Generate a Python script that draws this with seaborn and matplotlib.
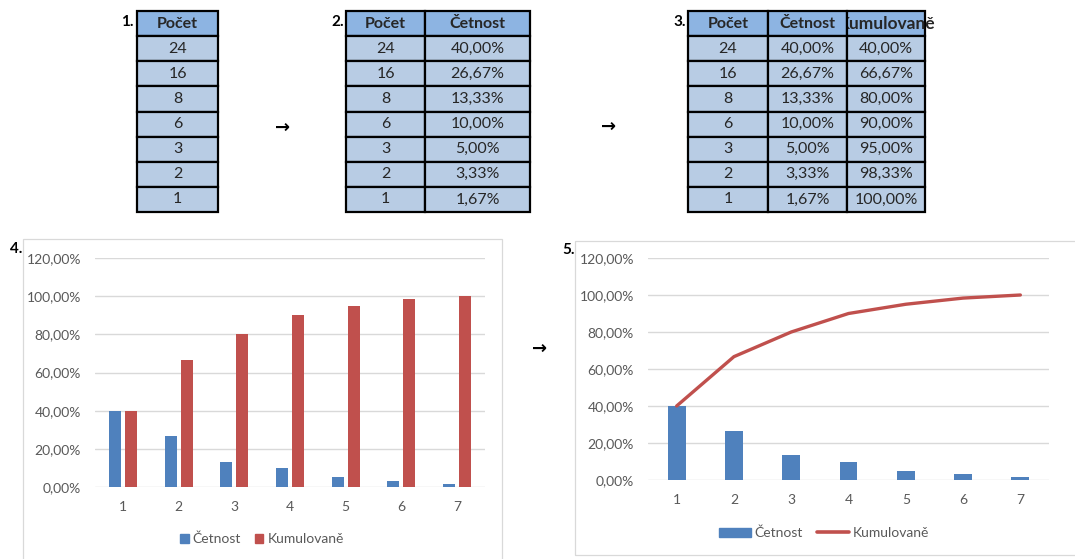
import matplotlib
matplotlib.use("Agg")
import matplotlib.pyplot as plt
import pandas as pd
import seaborn as sns
from matplotlib.patches import Rectangle, Patch
from matplotlib.lines import Line2D
from matplotlib.ticker import FuncFormatter
from matplotlib.transforms import Bbox, TransformedBbox

# data
pocet = [24, 16, 8, 6, 3, 2, 1]
cetnost = [40.00, 26.67, 13.33, 10.00, 5.00, 3.33, 1.67]
kumulovane = [40.00, 66.67, 80.00, 90.00, 95.00, 98.33, 100.00]
poradi = ["1", "2", "3", "4", "5", "6", "7"]

BLUE = "#4F81BD"
RED = "#C0504D"
HEAD = "#8DB4E2"
CELL = "#B8CCE4"
GRID = "#D9D9D9"
TICK = "#595959"

sns.set_theme(style="white")
plt.rcParams["font.family"] = ["Lato", "DejaVu Sans"]

W, H = 1075, 559
fig = plt.figure(figsize=(W / 100, H / 100), dpi=100)


def px(x0, y0, x1, y1):
    return [x0 / W, 1 - y1 / H, (x1 - x0) / W, (y1 - y0) / H]


def pct(v):
    return f"{v:.2f}%".replace(".", ",")


def draw_table(rect, columns, rows, widths):
    ax = fig.add_axes(rect)
    ax.axis("off")
    tab = ax.table(cellText=rows, colLabels=columns, colWidths=widths,
                   cellLoc="center", bbox=[0, 0, 1, 1])
    tab.auto_set_font_size(False)
    tab.set_fontsize(11.5)
    for (r, c), cell in tab.get_celld().items():
        cell.set_edgecolor("black")
        cell.set_linewidth(1.6)
        cell.set_facecolor(HEAD if r == 0 else CELL)
        if r == 0:
            cell.get_text().set_fontweight("bold")
    return tab


def label(x, y, s):
    fig.text(x / W, 1 - y / H, s, ha="right", va="center",
             fontweight="bold", fontsize=11, color="black")


def arrow(x, y):
    fig.text(x / W, 1 - y / H, "\u2192", ha="center", va="center",
             fontsize=13, fontweight="bold", family=["DejaVu Sans"], color="black")


# tables
draw_table(px(137, 11, 218, 212), ["Počet"], [[str(p)] for p in pocet], [1])
draw_table(px(346, 11, 530, 212), ["Počet", "Četnost"],
           [[str(p), pct(c)] for p, c in zip(pocet, cetnost)], [79, 105])
tab3 = draw_table(px(688, 11, 925, 212), ["Počet", "Četnost", "Kumulovaně"],
                  [[str(p), pct(c), pct(k)] for p, c, k in zip(pocet, cetnost, kumulovane)],
                  [80, 79, 78])
# header text overflows its cell: cut off on the left like in the sheet
head = tab3[0, 2].get_text()
head.set_fontsize(12.5)
head.set_clip_on(True)
head.set_clip_box(TransformedBbox(Bbox([[848 / W, 0], [1, 1]]), fig.transFigure))

label(134, 22, "1.")
label(344, 22, "2.")
label(686, 22, "3.")
arrow(283, 128)
arrow(609, 127)
arrow(540, 349)

# chart frames
fig.add_artist(Rectangle((23 / W, -0.1), (502 - 23) / W, 1 - 239 / H + 0.1,
                         transform=fig.transFigure, fill=False, edgecolor=GRID, lw=0.9))
fig.add_artist(Rectangle((575 / W, 1 - 555 / H), 0.5, (555 - 241) / H,
                         transform=fig.transFigure, fill=False, edgecolor=GRID, lw=0.9))
label(22, 249, "4.")
label(575, 250, "5.")


def style_axis(ax):
    ax.set_ylim(0, 120)
    ax.set_yticks(range(0, 121, 20))
    ax.yaxis.set_major_formatter(FuncFormatter(lambda v, _: pct(v)))
    ax.set_xlim(-0.5, 6.5)
    ax.grid(axis="y", color=GRID, lw=1)
    ax.grid(axis="x", visible=False)
    ax.set_axisbelow(True)
    for s in ax.spines.values():
        s.set_visible(False)
    ax.tick_params(length=0, labelsize=10, labelcolor=TICK, pad=10)
    ax.set_xlabel("")
    ax.set_ylabel("")


# chart 4: grouped bars
df4 = pd.DataFrame({
    "Poradi": poradi * 2,
    "Hodnota": cetnost + kumulovane,
    "Serie": ["Četnost"] * len(poradi) + ["Kumulovaně"] * len(poradi),
})
ax4 = fig.add_axes(px(95, 258, 485, 487))
ax4.set_facecolor("none")
sns.barplot(data=df4, x="Poradi", y="Hodnota", hue="Serie", palette=[BLUE, RED],
            width=0.575, gap=0.25, linewidth=0, saturation=1, legend=False, ax=ax4)
style_axis(ax4)
ax4.legend(handles=[Patch(color=BLUE, label="Četnost"), Patch(color=RED, label="Kumulovaně")],
           loc="center", bbox_to_anchor=(262 / W, 1 - 539 / H), bbox_transform=fig.transFigure,
           ncol=2, frameon=False, fontsize=10, labelcolor=TICK,
           handlelength=0.6, handleheight=0.6, handletextpad=0.3, columnspacing=1.0)

# chart 5: bars + cumulative line
ax5 = fig.add_axes(px(648, 258, 1049, 480))
ax5.set_facecolor("none")
sns.barplot(x=poradi, y=cetnost, color=BLUE, width=0.31, linewidth=0, saturation=1, ax=ax5)
sns.pointplot(x=poradi, y=kumulovane, color=RED, markers="", linestyles="-",
              errorbar=None, lw=2.4, ax=ax5)
style_axis(ax5)
ax5.legend(handles=[Patch(color=BLUE, label="Četnost"),
                    Line2D([], [], color=RED, lw=2.6, label="Kumulovaně")],
           loc="center", bbox_to_anchor=(824 / W, 1 - 533 / H), bbox_transform=fig.transFigure,
           ncol=2, frameon=False, fontsize=10, labelcolor=TICK,
           handlelength=2.3, handleheight=0.7, handletextpad=0.25, columnspacing=1.0)

fig.savefig("out.png", dpi=100)
